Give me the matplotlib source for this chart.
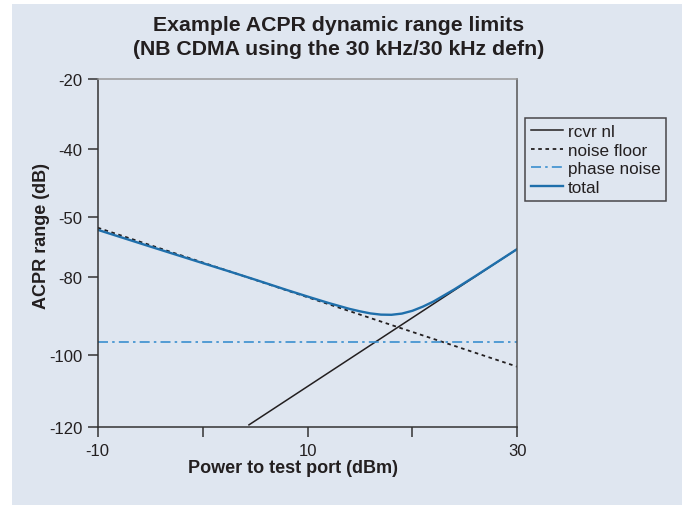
import matplotlib
matplotlib.use('Agg')
import matplotlib.pyplot as plt
from matplotlib.patches import Rectangle

plt.rcParams['font.family'] = ['Liberation Sans', 'DejaVu Sans']

# values
power = [-10, -5, 0, 2.5, 5, 8, 10, 12, 14, 15, 16, 17, 18, 19, 20, 21, 22, 24, 26, 28, 30]
total = [-63.3, -68.1, -72.85, -75.2, -77.6, -80.55, -82.45, -84.3, -86.0, -86.7, -87.3,
         -87.65, -87.7, -87.35, -86.55, -85.35, -83.9, -80.4, -76.6, -72.7, -68.8]
rcvr_x = [4.42, 30]
rcvr_y = [-119.3, -68.8]
noise_x = [-10, 30]
noise_y = [-62.7, -102.6]
phase_x = [-10, 30]
phase_y = [-95.4, -95.4]

# the y tick marks in the original are not evenly spaced (and one is labelled -50)
ytick_vals = [-20, -40.1, -59.5, -76.8, -99.3, -120]
ytick_labels = ['-20', '-40', '-50', '-80', '-100', '-120']
xtick_vals = [-10, 0, 10, 20, 30]
xtick_labels = ['-10', '', '10', '', '30']

bg = '#dfe6f0'
ink = '#231f20'
blue = '#1f6fab'
light_blue = '#3a8fcf'

fig = plt.figure(figsize=(6.82, 5.06), dpi=100)
fig.patch.set_facecolor('white')
fig.patches.append(Rectangle((12 / 682, -0.01), 1, 1.01 - 5 / 506, transform=fig.transFigure,
                             facecolor=bg, edgecolor='none', zorder=-5))

ax = fig.add_axes([97.7 / 682, 1 - 428.3 / 506, (517.3 - 97.7) / 682, (428.3 - 80) / 506])
ax.set_zorder(2)
ax.set_facecolor(bg)

ax.plot(rcvr_x, rcvr_y, color=ink, lw=1.1, label='rcvr nl')
ax.plot(noise_x, noise_y, color=ink, lw=1.3, ls=(0, (2, 2)), label='noise floor')
ax.plot(phase_x, phase_y, color=light_blue, lw=1.2, ls=(0, (6, 2.5, 1.5, 2.5)), label='phase noise')
ax.plot(power, total, color=blue, lw=1.7, label='total')

ax.set_xlim(-10, 30)
ax.set_ylim(-120, -20)
ax.set_xticks(xtick_vals)
ax.set_xticklabels(xtick_labels)
ax.set_yticks(ytick_vals)
ax.set_yticklabels(ytick_labels)
ax.tick_params(direction='out', length=7, width=1.1, color='#333333',
               labelsize=12, labelcolor=ink, pad=4)

ax.spines['left'].set_color('#333333')
ax.spines['bottom'].set_color('#333333')
ax.spines['right'].set_color('#555555')
ax.spines['top'].set_color('#999999')
for s in ax.spines.values():
    s.set_linewidth(1.1)

fig.text(339 / 682, 1 - 37.5 / 506, 'Example ACPR dynamic range limits\n(NB CDMA using the 30 kHz/30 kHz defn)',
         ha='center', va='center', fontsize=15.3, fontweight='bold', color=ink, linespacing=1.3)
fig.text(42 / 682, 1 - 236 / 506, 'ACPR range (dB)', rotation=90, ha='center', va='center',
         fontsize=13, fontweight='bold', color=ink)
fig.text(293 / 682, 1 - 469 / 506, 'Power to test port (dBm)', ha='center', va='center',
         fontsize=13, fontweight='bold', color=ink)

leg = ax.legend(loc='upper left', bbox_to_anchor=(525 / 682, 1 - 119.3 / 506),
                bbox_transform=fig.transFigure, fontsize=12.3, frameon=True, fancybox=False,
                handlelength=1.9, handletextpad=0.25, labelspacing=0.2, borderpad=0.35,
                borderaxespad=0)
leg.get_frame().set_edgecolor(ink)
leg.get_frame().set_facecolor(bg)
leg.get_frame().set_linewidth(1.1)
for t in leg.get_texts():
    t.set_color(ink)

fig.savefig('out.png', dpi=100)
